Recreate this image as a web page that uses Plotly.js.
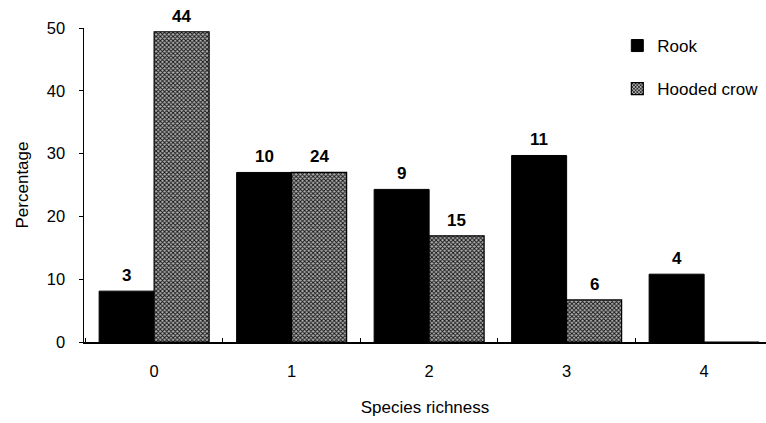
<!DOCTYPE html>
<html>
<head>
<meta charset="utf-8">
<script src="https://cdn.plot.ly/plotly-3.0.1.min.js"></script>
<style>html,body{margin:0;padding:0;background:#fff;}#chart{width:766px;height:423px;}</style>
</head>
<body>
<div id="chart"></div>
<script>
const categories = ['0', '1', '2', '3', '4'];
const rookPercent = [8.1, 27.0, 24.3, 29.7, 10.8];
const crowPercent = [49.4, 27.0, 16.9, 6.7, 0];
const rookCounts = ['3', '10', '9', '11', '4'];
const crowCounts = ['44', '24', '15', '6', ''];
const yTicks = [0, 10, 20, 30, 40, 50];

const FONT = 'Liberation Sans, Arial, Helvetica, sans-serif';

const traces = [
  {
    type: 'bar', name: 'Rook', x: categories, y: rookPercent,
    marker: { color: '#000', line: { color: '#000', width: 1 } },
    legendgroup: 'a', hoverinfo: 'x+y'
  },
  {
    type: 'bar', name: 'Hooded crow', x: categories, y: crowPercent,
    marker: {
      color: '#666',
      line: { color: '#000', width: 1.2 },
      pattern: { shape: 'x', size: 3, solidity: 0.5, fgcolor: '#111', bgcolor: '#b0b0b0', fillmode: 'replace' }
    },
    legendgroup: 'b', hoverinfo: 'x+y'
  }
];

const annotations = [];
categories.forEach((c, i) => {
  if (rookCounts[i] !== '') annotations.push({ x: c, y: rookPercent[i], xref: 'x', yref: 'y', text: '<b>' + rookCounts[i] + '</b>', showarrow: false, xshift: -27.5, yanchor: 'bottom', yshift: 4, font: { family: FONT, size: 17, color: '#000' } });
  if (crowCounts[i] !== '') annotations.push({ x: c, y: crowPercent[i], xref: 'x', yref: 'y', text: '<b>' + crowCounts[i] + '</b>', showarrow: false, xshift: 27.5, yanchor: 'bottom', yshift: 4, font: { family: FONT, size: 17, color: '#000' } });
});

const layout = {
  width: 766, height: 423,
  margin: { l: 84, r: 0, t: 28, b: 81 },
  paper_bgcolor: '#fff', plot_bgcolor: '#fff',
  font: { family: FONT, size: 16, color: '#000' },
  barmode: 'group', bargap: 0.2, bargroupgap: 0,
  xaxis: {
    type: 'category', range: [-0.51, 4.45],
    showline: true, linecolor: '#000', linewidth: 1.5,
    ticks: 'inside', tickson: 'boundaries', ticklen: 4, tickcolor: '#000',
    showgrid: false, zeroline: false,
    ticklabelstandoff: 14,
    tickfont: { family: FONT, size: 16.5 },
    title: { text: 'Species richness', font: { family: FONT, size: 17 }, standoff: 22 }
  },
  yaxis: {
    range: [0, 50], tickvals: yTicks,
    showline: true, linecolor: '#000', linewidth: 1.5,
    ticks: 'outside', ticklen: 4, tickcolor: '#000',
    showgrid: false, zeroline: false,
    ticklabelstandoff: 10,
    tickfont: { family: FONT, size: 16.5 },
    title: { text: 'Percentage', font: { family: FONT, size: 17 }, standoff: 14 }
  },
  legend: {
    x: 0.782, y: 1.0, xanchor: 'left', yanchor: 'top',
    traceorder: 'grouped', tracegroupgap: 18,
    font: { family: FONT, size: 17 }, bgcolor: 'rgba(0,0,0,0)'
  },
  annotations: annotations
};

Plotly.newPlot('chart', traces, layout, { staticPlot: true, displayModeBar: false });
</script>
</body>
</html>
